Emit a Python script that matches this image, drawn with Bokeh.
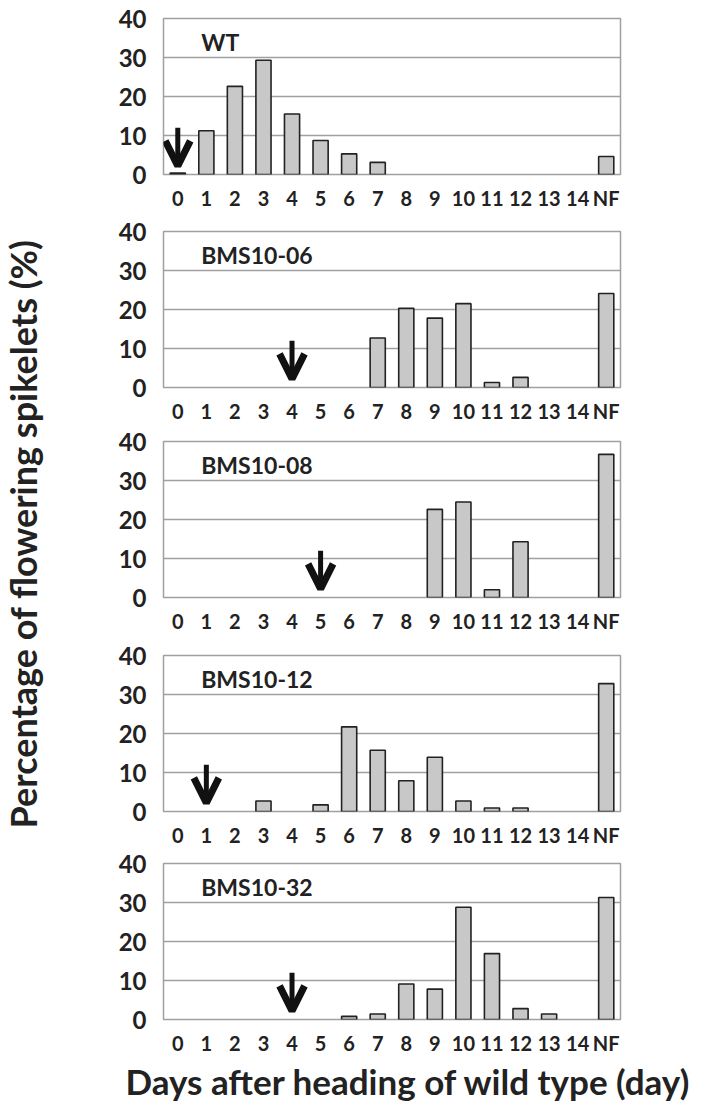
import math
from bokeh.plotting import figure
from bokeh.models import (ColumnDataSource, FixedTicker, Label, Arrow, OpenHead,
                          Title, Range1d)
from bokeh.layouts import row, column
from bokeh.embed import file_html
from bokeh.resources import INLINE

# ---------------- data ----------------
days = ["0", "1", "2", "3", "4", "5", "6", "7", "8", "9", "10", "11", "12", "13", "14", "NF"]
lines = ["WT", "BMS10-06", "BMS10-08", "BMS10-12", "BMS10-32"]
wt =       [0.4, 11.2, 22.6, 29.3, 15.5, 8.7, 5.3, 3.1, 0, 0, 0, 0, 0, 0, 0, 4.6]
bms10_06 = [0, 0, 0, 0, 0, 0, 0, 12.7, 20.3, 17.8, 21.5, 1.3, 2.6, 0, 0, 24.1]
bms10_08 = [0, 0, 0, 0, 0, 0, 0, 0, 0, 22.6, 24.5, 2.0, 14.3, 0, 0, 36.7]
bms10_12 = [0, 0, 0, 2.7, 0, 1.7, 21.7, 15.7, 7.9, 13.9, 2.7, 0.9, 0.9, 0, 0, 32.8]
bms10_32 = [0, 0, 0, 0, 0, 0, 0.8, 1.4, 9.1, 7.8, 28.8, 16.9, 2.8, 1.4, 0, 31.3]
series = [wt, bms10_06, bms10_08, bms10_12, bms10_32]
arrow_days = ["0", "4", "5", "1", "4"]   # heading day of each line (arrow)
y_ticks = [0, 10, 20, 30, 40]

# ---------------- style ----------------
FONT = "Lato"
TXT = "#222222"
GRID = "#a0a0a0"
BAR_FILL = "#c8c8c8"
top_borders = [18, 19, 16, 20, 14]
BOTTOM = 38
LAST_BOTTOM = 86
LEFT_W = 68
ARROW_TOP, ARROW_TIP = 12.0, 2.2

panels = []
n = len(days)
xs = list(range(n))
for i, (name, vals) in enumerate(zip(lines, series)):
    last = i == len(lines) - 1
    p = figure(frame_width=457, frame_height=156,
               min_border_left=95, min_border_right=84,
               min_border_top=top_borders[i], min_border_bottom=LAST_BOTTOM if last else BOTTOM,
               x_range=Range1d(-0.5, n - 0.5), y_range=Range1d(0, 40),
               output_backend="svg", toolbar_location=None)
    keep = [k for k in xs if vals[k] > 0]
    src = ColumnDataSource(dict(x=keep, top=[vals[k] for k in keep]))
    p.vbar(x="x", top="top", width=0.53, source=src,
           fill_color=BAR_FILL, line_color=TXT, line_width=1.6)

    p.xgrid.grid_line_color = None
    p.ygrid.grid_line_color = GRID
    p.ygrid.grid_line_width = 1.5
    p.ygrid.ticker = FixedTicker(ticks=y_ticks)
    p.outline_line_color = GRID
    p.outline_line_width = 1.5

    p.yaxis.ticker = FixedTicker(ticks=y_ticks)
    p.xaxis.ticker = FixedTicker(ticks=xs)
    p.xaxis.major_label_overrides = {k: d for k, d in zip(xs, days)}
    for ax in (p.xaxis[0], p.yaxis[0]):
        ax.axis_line_color = None
        ax.major_tick_line_color = None
        ax.minor_tick_line_color = None
        ax.major_label_text_font = FONT
        ax.major_label_text_font_style = "bold"
        ax.major_label_text_color = TXT
    p.yaxis.major_label_text_font_size = "24px"
    p.xaxis.major_label_text_font_size = "20px"
    p.yaxis.major_label_standoff = 11
    p.xaxis.major_label_standoff = 5

    p.add_layout(Label(x=0.82, y=34, text=name, text_font=FONT, text_font_style="bold",
                       text_font_size="23px", text_color=TXT,
                       text_align="left", text_baseline="middle"))

    ax_i = days.index(arrow_days[i])
    p.add_layout(Arrow(x_start=ax_i, y_start=ARROW_TOP, x_end=ax_i, y_end=ARROW_TIP,
                       line_color="#111111", line_width=5,
                       end=OpenHead(size=25, line_width=7, line_color="#111111")))

    if last:
        p.add_layout(Title(text="Days after heading of wild type (day)", align="left",
                           offset=-38, text_font=FONT, text_font_style="bold",
                           text_font_size="35px", text_color=TXT, standoff=0), "below")
    panels.append(p)

col = column(*panels, spacing=0)
total_h = sum(top_borders) + 5 * 156 + 4 * BOTTOM + LAST_BOTTOM

ylab = figure(width=LEFT_W, height=total_h, x_range=Range1d(0, 1), y_range=Range1d(0, 1),
              min_border=0, output_backend="svg", toolbar_location=None)
ylab.axis.visible = False
ylab.grid.grid_line_color = None
ylab.outline_line_color = None
ylab.add_layout(Label(x=22 / LEFT_W, y=1 - (530 - 1) / total_h,
                      text="Percentage of  flowering spikelets (%)", angle=math.pi / 2,
                      text_font=FONT, text_font_style="bold", text_font_size="36px",
                      text_color=TXT, text_align="center", text_baseline="middle"))

layout = row(ylab, col, spacing=0)
open("out.html", "w").write(file_html(layout, INLINE))
